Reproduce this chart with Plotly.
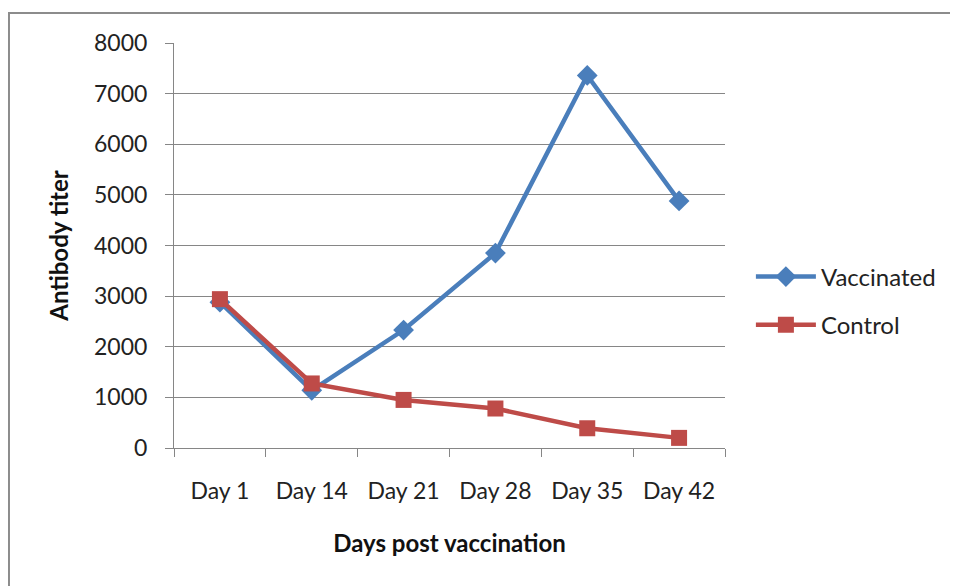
import plotly.graph_objects as go

days = ["Day 1", "Day 14", "Day 21", "Day 28", "Day 35", "Day 42"]
vaccinated = [2880, 1140, 2330, 3850, 7360, 4880]
control = [2940, 1275, 950, 780, 390, 200]

FONT = "Lato"
GREY = "#868686"

fig = go.Figure()
fig.add_trace(go.Scatter(
    x=days, y=vaccinated, name="Vaccinated", mode="lines+markers",
    line=dict(color="#4A7EBB", width=4.5),
    marker=dict(symbol="diamond", size=16, color="#4A7EBB"),
    legendgroup="a",
))
fig.add_trace(go.Scatter(
    x=days, y=control, name="Control", mode="lines+markers",
    line=dict(color="#BE4B48", width=4.5),
    marker=dict(symbol="square", size=16, color="#BE4B48"),
    legendgroup="b",
))

fig.update_layout(
    width=958, height=586,
    margin=dict(l=166, r=241, t=35, b=146),
    paper_bgcolor="white", plot_bgcolor="white",
    font=dict(family=FONT, size=23, color="#222"),
    showlegend=True,
    legend=dict(x=1.047, y=0.363, xanchor="left", yanchor="middle",
                font=dict(family=FONT, size=24, color="#222"),
                tracegroupgap=14, itemwidth=60, bgcolor="rgba(0,0,0,0)"),
    shapes=[dict(type="rect", xref="paper", yref="paper",
                 x0=-0.2995, x1=2, y0=-1, y1=1.074,
                 line=dict(color="#8c8c8c", width=2), fillcolor="rgba(0,0,0,0)")],
)
fig.update_xaxes(
    type="category", range=[-0.5, 5.5],
    showline=True, linecolor=GREY, linewidth=1,
    ticks="outside", tickson="boundaries", ticklen=8, tickcolor=GREY,
    showgrid=False, ticklabelstandoff=22,
    title=dict(text="<b>Days post vaccination</b>", standoff=32,
               font=dict(family=FONT, size=24, color="#111")),
)
fig.update_yaxes(
    range=[0, 8000], dtick=1000,
    showline=True, linecolor=GREY, linewidth=1,
    ticks="outside", ticklen=8, tickcolor=GREY,
    showgrid=True, gridcolor=GREY, gridwidth=1,
    ticklabelstandoff=13, zeroline=False,
    title=dict(text="<b>Antibody titer</b>", standoff=18,
               font=dict(family=FONT, size=24, color="#111")),
)

fig.write_html("out.html")
